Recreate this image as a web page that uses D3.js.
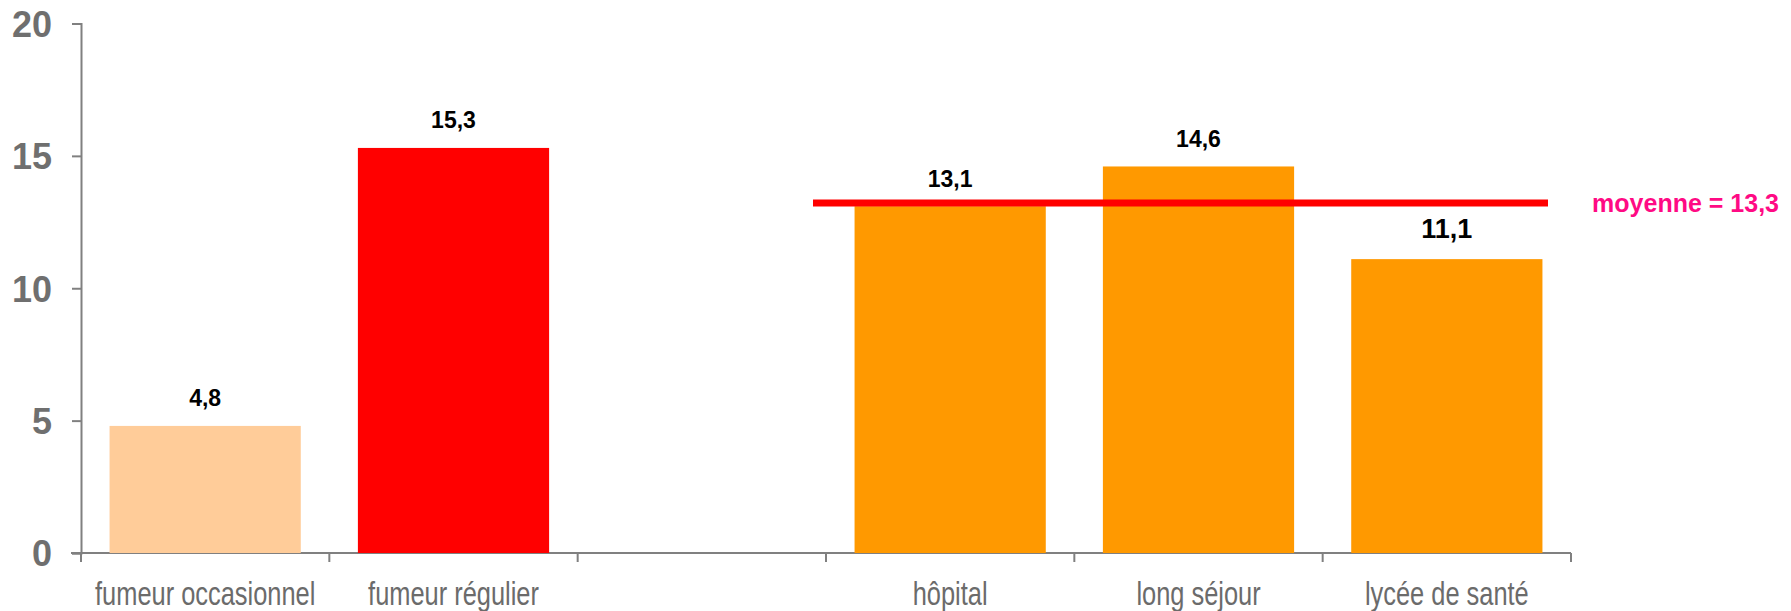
<!DOCTYPE html>
<html><head><meta charset="utf-8">
<script src="https://cdn.jsdelivr.net/npm/d3@7"></script>
<style>
body{margin:0;background:#fff;}
svg{display:block;}
</style></head>
<body>
<svg id="chart" width="1791" height="611"></svg>
<script>
const categories = ["fumeur occasionnel","fumeur régulier","","hôpital","long séjour","lycée de santé"];
const values = [4.8, 15.3, null, 13.1, 14.6, 11.1];
const valueLabels = ["4,8","15,3","","13,1","14,6","11,1"];
const barColors = ["#FFCC99","#FF0000",null,"#FF9900","#FF9900","#FF9900"];
const yTicks = [0,5,10,15,20];
const meanValue = 13.3;
const meanLabel = "moyenne = 13,3";
const meanCategories = ["hôpital","lycée de santé"];

const svg = d3.select("#chart");
const sans = "'Liberation Sans',Arial,sans-serif";

const x = d3.scaleBand().domain(d3.range(categories.length)).range([81,1571]).padding(0);
const y = d3.scaleLinear().domain([0,20]).range([553,23.5]);
const barW = x.bandwidth()*0.77;

// y axis
const yAxis = svg.append("g").attr("transform","translate(81,0)")
  .call(d3.axisLeft(y).tickValues(yTicks).tickSize(9).tickPadding(20));
yAxis.select(".domain").attr("stroke","#808080").attr("stroke-width",2);
yAxis.selectAll(".tick line").attr("stroke","#808080").attr("stroke-width",2);
yAxis.selectAll(".tick text").attr("fill","#6f6f6f").attr("font-family",sans)
  .attr("font-weight","bold").attr("font-size",36).attr("dy","0.36em");

// x axis line & ticks at band boundaries
const bounds = d3.range(categories.length+1).map(i => i < categories.length ? x(i) : x(i-1)+x.bandwidth());
svg.append("line").attr("x1",bounds[0]-10).attr("x2",bounds[bounds.length-1]).attr("y1",y(0)).attr("y2",y(0))
  .attr("stroke","#808080").attr("stroke-width",2);
svg.selectAll(".xt").data(bounds).enter().append("line")
  .attr("x1",d=>d).attr("x2",d=>d).attr("y1",y(0)).attr("y2",y(0)+9)
  .attr("stroke","#808080").attr("stroke-width",2);

// bars
const idx = d3.range(categories.length).filter(i => values[i] != null);
svg.selectAll(".bar").data(idx).enter().append("rect")
  .attr("x", i => x(i)+(x.bandwidth()-barW)/2)
  .attr("width", barW)
  .attr("y", i => y(values[i]))
  .attr("height", i => y(0)-y(values[i]))
  .attr("fill", i => barColors[i]);

// x labels (narrow look)
svg.selectAll(".xl").data(d3.range(categories.length)).enter().append("text")
  .attr("transform", i => `translate(${x(i)+x.bandwidth()/2},605) scale(0.77,1)`)
  .attr("text-anchor","middle").attr("fill","#6b6b6b")
  .attr("font-family",sans).attr("font-size",33)
  .text(i => categories[i]);

// mean line
const mi0 = categories.indexOf(meanCategories[0]), mi1 = categories.indexOf(meanCategories[1]);
const mx0 = x(mi0) - 13, mx1 = x(mi1) + x.bandwidth() - 23;
svg.append("line").attr("x1",mx0).attr("x2",mx1).attr("y1",y(meanValue)+2).attr("y2",y(meanValue)+2)
  .attr("stroke","#FF0000").attr("stroke-width",7);
svg.append("text").attr("x", 1779).attr("y", y(meanValue)+11)
  .attr("text-anchor","end")
  .attr("fill","#FF0A84").attr("font-family",sans).attr("font-weight","bold").attr("font-size",25)
  .text(meanLabel);

// value labels
svg.selectAll(".vl").data(idx).enter().append("text")
  .attr("x", i => x(i)+x.bandwidth()/2)
  .attr("y", i => y(values[i]) - (i===5 ? 21 : 19.5))
  .attr("text-anchor","middle").attr("fill","#000")
  .attr("font-family",sans).attr("font-weight","bold")
  .attr("font-size", i => i===5 ? 27 : 23)
  .text(i => valueLabels[i]);
</script>
</body></html>
